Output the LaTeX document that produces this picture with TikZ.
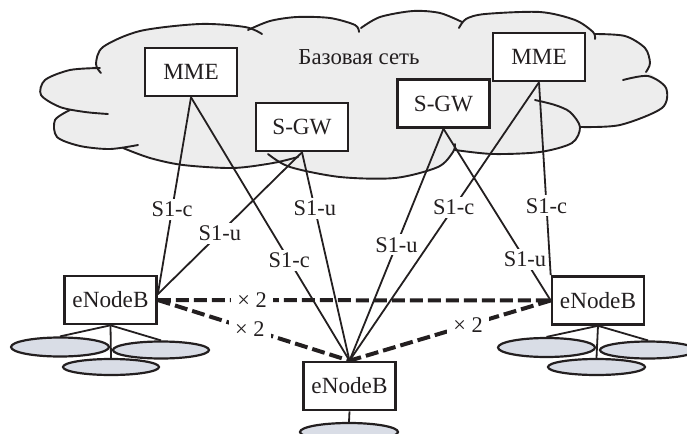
\documentclass[tikz,border=0pt]{standalone}
\usepackage{fontspec}
\setmainfont{Liberation Serif}
\usetikzlibrary{shapes.geometric}
\definecolor{ink}{HTML}{231F20}
\definecolor{cloudgray}{HTML}{EDEDED}
\definecolor{cellfill}{HTML}{D9DDE6}
\begin{document}
\begin{tikzpicture}[x=0.5pt,y=-0.5pt,
  box/.style={draw=ink, line width=1.3pt, fill=white, minimum width=46pt, minimum height=24pt, inner sep=0pt, text=ink, font=\fontsize{11.6}{13}\selectfont},
  link/.style={draw=ink, line width=0.9pt},
  lbl/.style={fill=white, inner sep=1.5pt, text=ink, font=\fontsize{11.2}{13}\selectfont},
  xlbl/.style={fill=white, inner sep=3pt, text=ink, font=\fontsize{11.2}{13}\selectfont},
  x2/.style={draw=ink, line width=2pt, dash pattern=on 6.5pt off 2.5pt},
  cloudline/.style={draw=ink, line width=0.95pt, line cap=round},
  cell/.style={ellipse, draw=ink, line width=1.1pt, fill=cellfill, inner sep=0pt},
  ]
\useasboundingbox (0,0) rectangle (687,434);

% cloud fill
\fill[cloudgray] plot[smooth] coordinates {(97,66) (103,47) (140,31) (200,24) (250,28)}
 -- plot[smooth] coordinates {(250,28) (270,21) (297,17) (330,18) (361,28)}
 -- plot[smooth] coordinates {(361,28) (380,17) (413,11) (440,13) (462,22)}
 -- plot[smooth] coordinates {(462,22) (485,14) (540,12) (575,20) (595,34)}
 -- plot[smooth] coordinates {(595,34) (625,36) (645,48) (650,63) (648,72)}
 -- plot[smooth] coordinates {(648,72) (666,88) (662,108) (620,125) (580,127)}
 -- plot[smooth] coordinates {(580,127) (572,143) (540,152) (493,154) (455,150)}
 -- plot[smooth] coordinates {(455,150) (438,167) (395,178) (340,177) (290,167) (272,161)}
 -- plot[smooth] coordinates {(272,161) (233,168) (183,165) (150,158) (123,148)}
 -- plot[smooth] coordinates {(123,148) (80,146) (57,137) (55,120) (70,110)}
 -- plot[smooth] coordinates {(70,110) (60,107) (41,95) (45,80) (70,70) (97,66)}
 -- cycle;
% cloud outline strokes
\draw[cloudline] plot[smooth] coordinates {(101,73) (96,64) (103,47) (140,31) (200,24) (245,27) (262,34)};
\draw[cloudline] plot[smooth] coordinates {(248,30) (270,21) (297,17) (330,18) (355,25) (359,32)};
\draw[cloudline] plot[smooth] coordinates {(361,28) (380,17) (413,11) (440,13) (462,22)};
\draw[cloudline] plot[smooth] coordinates {(459,28) (466,19) (485,14) (540,12) (575,20) (593,32) (595,39)};
\draw[cloudline] plot[smooth] coordinates {(595,34) (625,36) (645,48) (650,63) (646,72)};
\draw[cloudline] plot[smooth] coordinates {(623,80) (648,76) (666,88) (662,108) (620,125) (580,127)};
\draw[cloudline] plot[smooth] coordinates {(455,150) (493,154) (540,152) (572,143) (580,127) (570,112) (555,105) (535,100)};
\draw[cloudline] plot[smooth] coordinates {(268,154) (290,167) (340,177) (395,178) (438,167) (453,152) (455,144)};
\draw[cloudline] plot[smooth] coordinates {(123,148) (150,158) (183,165) (233,168) (273,163) (298,157)};
\draw[cloudline] plot[smooth] coordinates {(70,110) (55,120) (57,137) (80,146) (110,149) (138,145)};
\draw[cloudline] plot[smooth] coordinates {(100,68) (70,70) (45,80) (41,95) (60,107) (85,112) (108,114)};

\node[text=ink, font=\fontsize{11.4}{13}\selectfont] (core) at (359,57) {Базовая сеть};

% boxes
\node[box] (mmeL) at (191,72) {MME};
\node[box] (mmeR) at (539,57) {MME};
\node[box] (sgwL) at (302,127) {S-GW};
\node[box] (sgwR) at (443.5,103.5) {S-GW};
\node[box] (enbL) at (110.5,300) {eNodeB};
\node[box] (enbR) at (598,300.5) {eNodeB};
\node[box] (enbB) at (349.5,386) {eNodeB};

% cells
\node[cell, minimum width=49pt, minimum height=9.5pt] (cL1) at (60,347) {};
\node[cell, minimum width=48pt, minimum height=8.5pt] (cL2) at (161,350) {};
\node[cell, minimum width=48pt, minimum height=8pt] (cL3) at (111,367) {};
\node[cell, minimum width=48.5pt, minimum height=9.5pt] (cR1) at (546.5,347.5) {};
\node[cell, minimum width=48pt, minimum height=8.5pt] (cR2) at (648,350) {};
\node[cell, minimum width=48.5pt, minimum height=8pt] (cR3) at (596.5,367) {};
\node[cell, minimum width=49pt, minimum height=9pt] (cB1) at (349,432) {};

\draw[link] (enbL.south) -- (cL1.north);
\draw[link] (enbL.south) -- (cL2.north);
\draw[link] (enbL.south) -- (cL3.north);
\draw[link] (enbR.south) -- (cR1.north);
\draw[link] (enbR.south) -- (cR2.north);
\draw[link] (enbR.south) -- (cR3.north);
\draw[link] (enbB.south) -- (cB1.north);

% X2 links
\draw[x2] (enbL.east) -- node[xlbl, pos=0.24] (xa) {× 2} (enbR.west);
\draw[x2] (enbL.east) -- node[xlbl, pos=0.48] (xb) {× 2} (enbB.north);
\draw[x2] (enbR.west) -- node[xlbl, pos=0.41] (xc) {× 2} (enbB.north);

% S1 links
\draw[link] (mmeL.south) -- node[lbl, pos=0.57] (l1) {S1-c} (enbL.7);
\draw[link] (mmeL.south) -- node[lbl, pos=0.62] (l2) {S1-c} (enbB.north);
\draw[link] (sgwL.south) -- node[lbl, pos=0.57] (l3) {S1-u} (enbL.7);
\draw[link] (sgwL.south) -- node[lbl, pos=0.27] (l4) {S1-u} (enbB.north);
\draw[link] (sgwR.south) -- node[lbl, pos=0.5] (l5) {S1-u} (enbB.north);
\draw[link] (sgwR.south) -- node[lbl, pos=0.76] (l6) {S1-u} (enbR.west);
\draw[link] (mmeR.south) -- node[lbl, pos=0.45] (l7) {S1-c} (enbB.north);
\draw[link] (mmeR.south) -- node[lbl, pos=0.64] (l8) {S1-c} (enbR.north west);
\end{tikzpicture}
\end{document}
